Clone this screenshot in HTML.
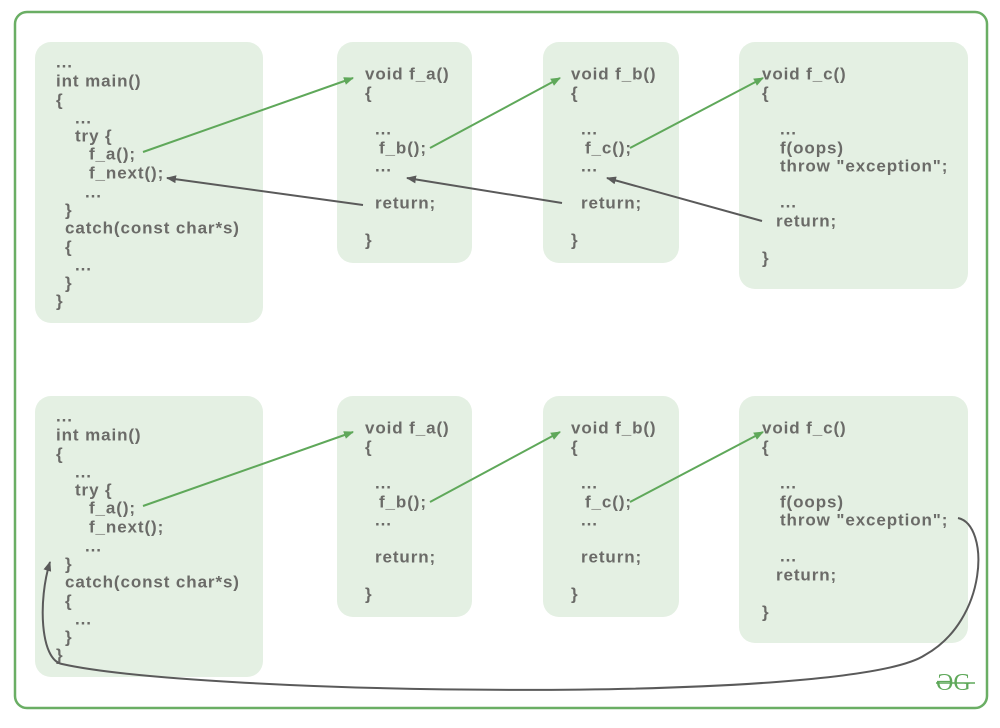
<!DOCTYPE html>
<html><head><meta charset="utf-8"><style>
html,body{margin:0;padding:0;background:#fff}
svg text{font-family:"Liberation Sans",sans-serif;font-weight:bold;font-size:17px;letter-spacing:0.9px;fill:#6b6b68;dominant-baseline:central}
</style></head><body>
<svg width="1000" height="723" viewBox="0 0 1000 723" xmlns="http://www.w3.org/2000/svg">
<defs>
<marker id="g" markerWidth="10" markerHeight="8" refX="9" refY="4" orient="auto" markerUnits="userSpaceOnUse"><path d="M0,0 L10,4 L0,8 Z" fill="#5fa85a"/></marker>
<marker id="k" markerWidth="10" markerHeight="8" refX="9" refY="4" orient="auto" markerUnits="userSpaceOnUse"><path d="M0,0 L10,4 L0,8 Z" fill="#5a5a5a"/></marker>
</defs>
<rect x="15" y="12" width="972" height="696" rx="12" fill="none" stroke="#6aae64" stroke-width="2.5"/>
<g id="top">
<rect x="35" y="42" width="228" height="281" rx="16" fill="#e4f0e3"/>
<rect x="337" y="42" width="135" height="221" rx="16" fill="#e4f0e3"/>
<rect x="543" y="42" width="136" height="221" rx="16" fill="#e4f0e3"/>
<rect x="739" y="42" width="229" height="247" rx="16" fill="#e4f0e3"/>
<text x="56" y="62">...</text>
<text x="56" y="81">int main()</text>
<text x="56" y="100">{</text>
<text x="75" y="118">...</text>
<text x="75" y="136">try {</text>
<text x="89" y="154">f_a();</text>
<text x="89" y="173">f_next();</text>
<text x="85" y="192">...</text>
<text x="65" y="210">}</text>
<text x="65" y="228">catch(const char*s)</text>
<text x="65" y="247">{</text>
<text x="75" y="265">...</text>
<text x="65" y="283">}</text>
<text x="56" y="301">}</text>
<text x="365" y="74">void f_a()</text>
<text x="365" y="93">{</text>
<text x="375" y="129">...</text>
<text x="379" y="148">f_b();</text>
<text x="375" y="166">...</text>
<text x="375" y="203">return;</text>
<text x="365" y="240">}</text>
<text x="571" y="74">void f_b()</text>
<text x="571" y="93">{</text>
<text x="581" y="129">...</text>
<text x="585" y="148">f_c();</text>
<text x="581" y="166">...</text>
<text x="581" y="203">return;</text>
<text x="571" y="240">}</text>
<text x="762" y="74">void f_c()</text>
<text x="762" y="93">{</text>
<text x="780" y="129">...</text>
<text x="780" y="148">f(oops)</text>
<text x="780" y="166">throw "exception";</text>
<text x="780" y="202">...</text>
<text x="776" y="221">return;</text>
<text x="762" y="258">}</text>
<line x1="143" y1="152" x2="353" y2="78" stroke="#5fa85a" stroke-width="2" marker-end="url(#g)"/>
<line x1="430" y1="148" x2="560" y2="78" stroke="#5fa85a" stroke-width="2" marker-end="url(#g)"/>
<line x1="630" y1="148" x2="763" y2="78" stroke="#5fa85a" stroke-width="2" marker-end="url(#g)"/>
</g>
<line x1="363" y1="205" x2="167" y2="178" stroke="#5a5a5a" stroke-width="2" marker-end="url(#k)"/>
<line x1="562" y1="203" x2="407" y2="178" stroke="#5a5a5a" stroke-width="2" marker-end="url(#k)"/>
<line x1="762" y1="221" x2="607" y2="178" stroke="#5a5a5a" stroke-width="2" marker-end="url(#k)"/>
<use href="#top" y="354"/>
<path d="M958,518 C990,525 988,620 925,655 C850,705 200,695 62,664 C40,660 38,600 50,562" fill="none" stroke="#5a5a5a" stroke-width="2" marker-end="url(#k)"/>
<text x="936" y="683" style="fill:#5fa85a;font-size:24px;font-weight:normal;letter-spacing:0;font-family:'Liberation Serif',serif">ƏG</text>
<line x1="936" y1="683" x2="975" y2="683" stroke="#5fa85a" stroke-width="1.5"/>
</svg>
</body></html>
